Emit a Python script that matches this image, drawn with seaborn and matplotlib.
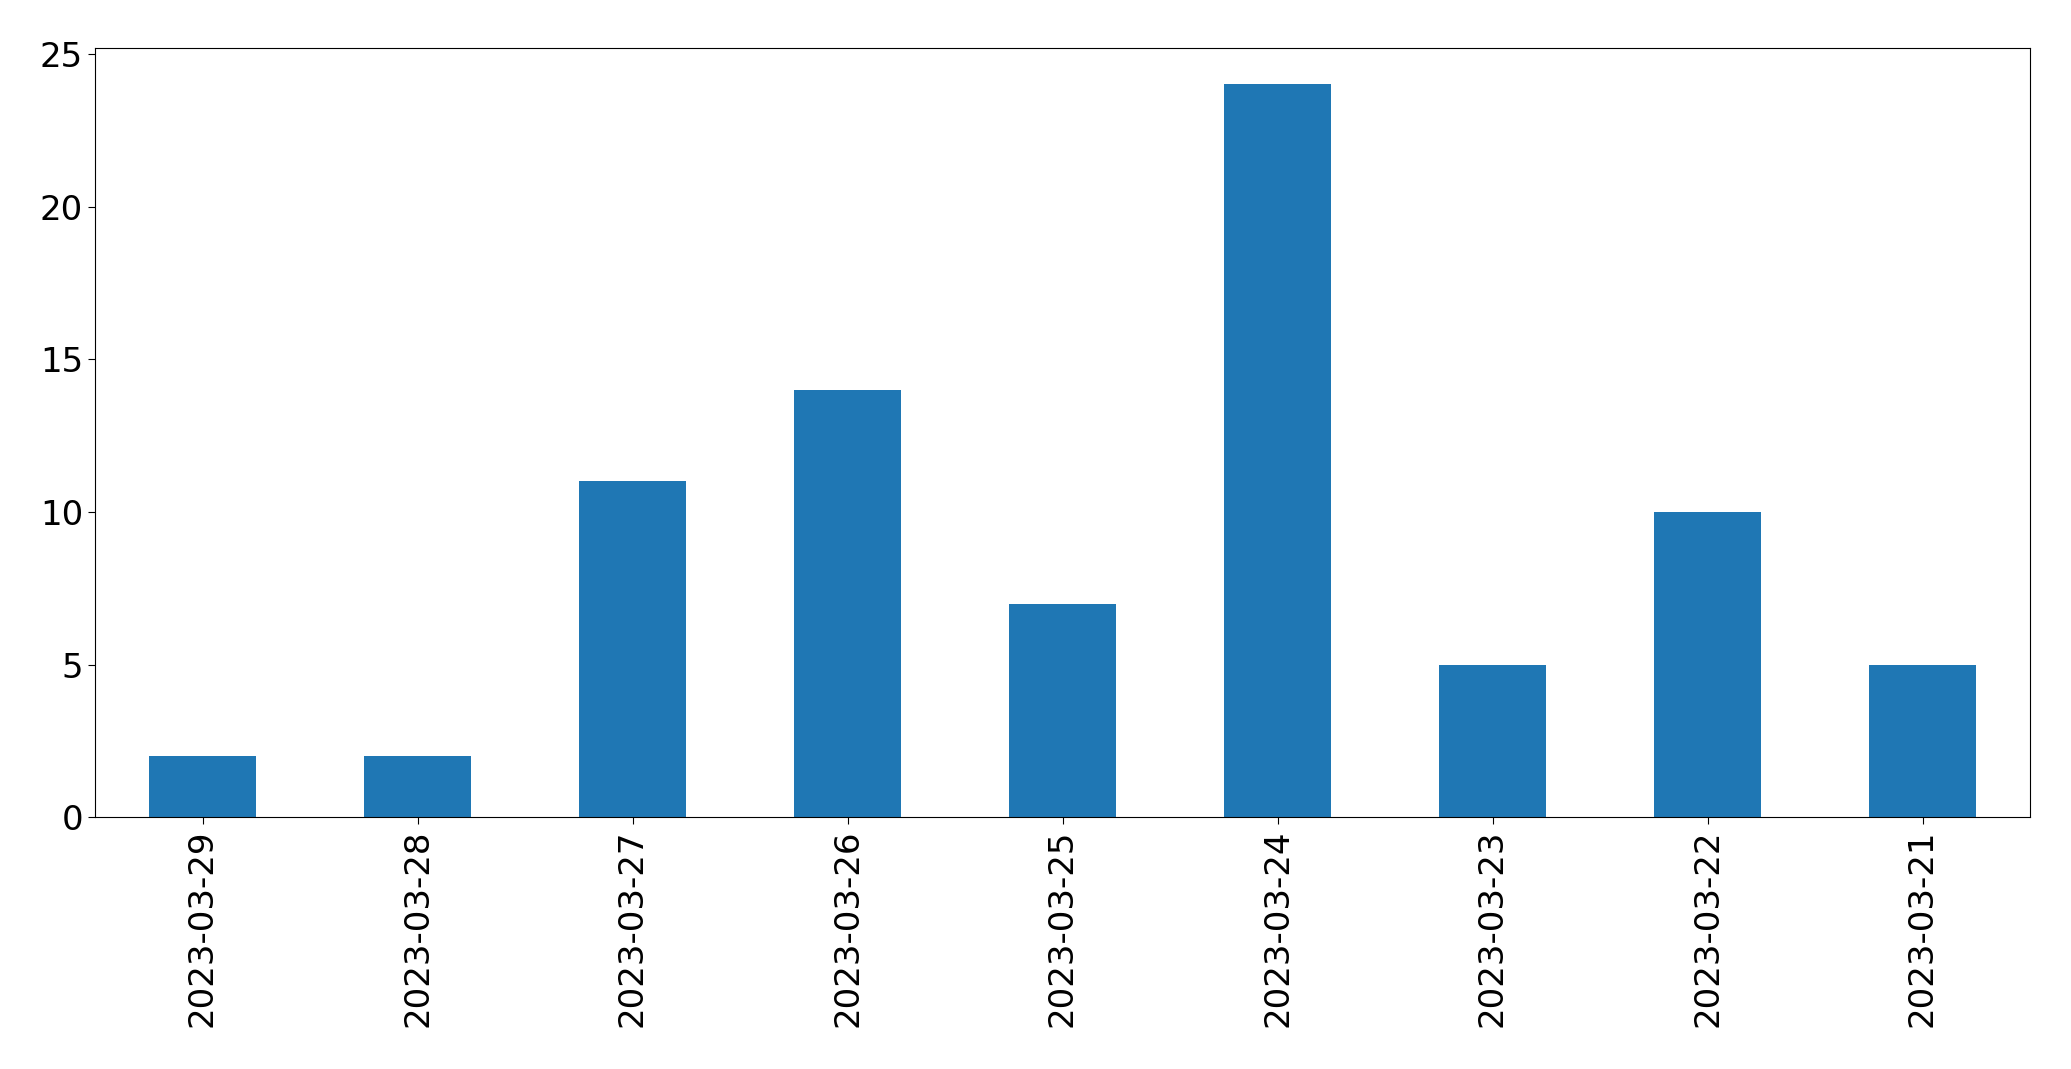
import matplotlib
matplotlib.use("Agg")
import matplotlib.pyplot as plt
import seaborn as sns
import pandas as pd

dates = ["2023-03-29", "2023-03-28", "2023-03-27", "2023-03-26", "2023-03-25",
         "2023-03-24", "2023-03-23", "2023-03-22", "2023-03-21"]
counts = [2, 2, 11, 14, 7, 24, 5, 10, 5]

df = pd.DataFrame({"date": dates, "count": counts})

W, H = 2071, 1069
fig = plt.figure(figsize=(W / 100, H / 100), dpi=100)
ax = fig.add_axes([95 / W, 1 - 817.3 / H, (2030 - 95) / W, (817.3 - 47.7) / H])

sns.barplot(data=df, x="date", y="count", order=dates, color="#1f77b4",
            saturation=1, width=0.5, ax=ax)

ax.set_xlim(-0.5, len(dates) - 0.5)
ax.set_ylim(0, 25.2)
ax.set_yticks([0, 5, 10, 15, 20, 25])
ax.set_xlabel("")
ax.set_ylabel("")
ax.tick_params(axis="both", labelsize=24.5, length=5)
plt.setp(ax.get_xticklabels(), rotation=90)

fig.savefig("out.png", dpi=100)
